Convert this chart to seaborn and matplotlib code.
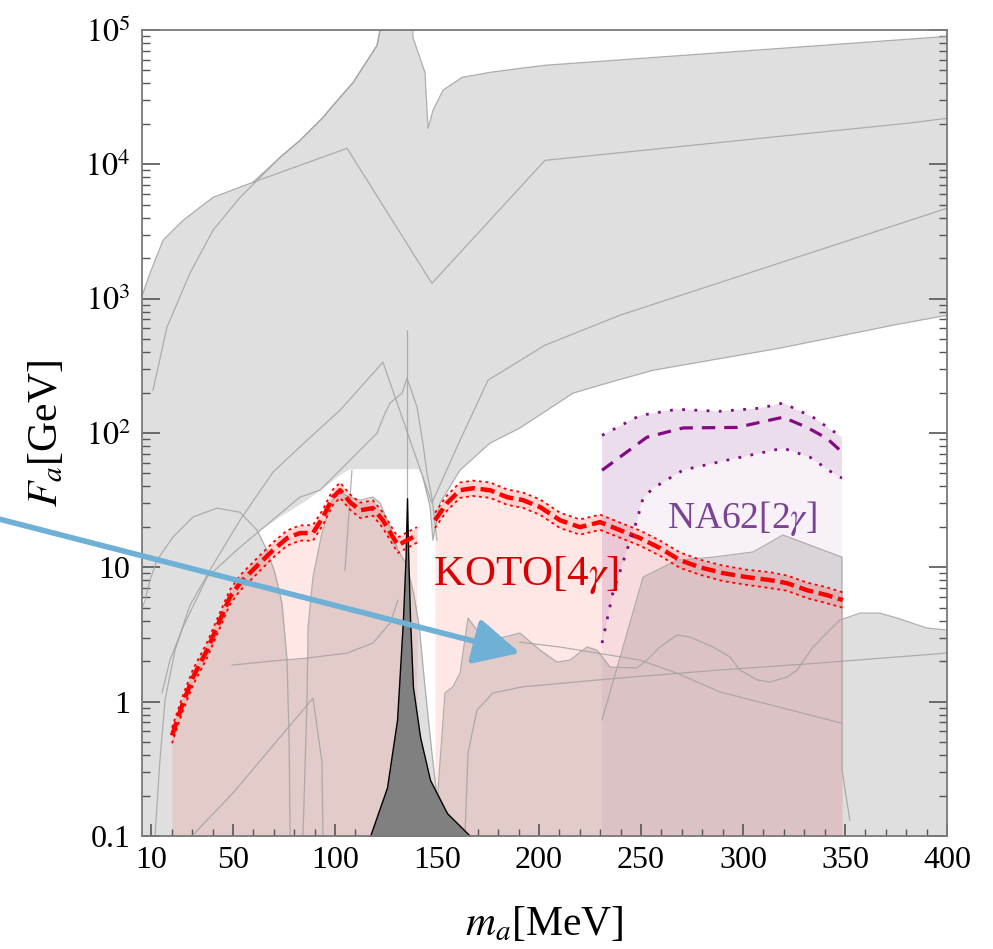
import matplotlib
matplotlib.use("Agg")
import matplotlib.pyplot as plt
import seaborn as sns
import numpy as np
from matplotlib.patches import FancyArrowPatch
from matplotlib.ticker import FixedLocator, MultipleLocator, LogLocator, NullFormatter

sns.set_style("white")
plt.rcParams["font.family"] = ["Liberation Serif", "DejaVu Serif"]
plt.rcParams["mathtext.fontset"] = "stix"
plt.rcParams["text.color"] = "black"
plt.rcParams["axes.labelcolor"] = "black"
plt.rcParams["xtick.color"] = "black"
plt.rcParams["ytick.color"] = "black"

# ---------------- data (m_a in MeV, F_a in GeV) ----------------
# KOTO[4 gamma]: central curve and band, below the pi0 gap
koto1_m = [20.1, 25.5, 30.4, 37.3, 43.6, 48.5, 53.4, 58.2, 64.6, 69.6, 76.5, 82.8,
           89.2, 94.1, 99.0, 102.5, 107.4, 112.3, 118.6, 123.5, 128.4, 130.9, 135.3, 140.2]
koto1_c = [0.56, 0.98, 1.52, 2.42, 4.05, 6.0, 7.63, 9.05, 11.3, 13.4, 16.5, 18.0,
           18.0, 23.6, 33.3, 37.5, 30.5, 26.6, 27.6, 22.4, 16.8, 14.6, 15.9, 17.4]
koto1_up = [0.64, 1.12, 1.74, 2.76, 4.6, 6.8, 8.7, 10.3, 12.9, 15.3, 18.8, 20.5,
            20.6, 26.9, 38.0, 42.7, 34.8, 30.3, 31.5, 25.5, 19.2, 16.7, 18.2, 19.9]
koto1_lo = [0.49, 0.86, 1.33, 2.12, 3.55, 5.3, 6.7, 7.9, 9.9, 11.8, 14.5, 15.8,
            15.8, 20.7, 29.2, 32.9, 26.8, 23.3, 24.2, 19.6, 14.7, 12.8, 13.9, 15.3]
# KOTO[4 gamma] above the pi0 gap
koto2_m = [149.0, 154.9, 161.3, 167.7, 176.0, 184.3, 192.2, 200.5, 210.3, 220.1, 229.9, 239.7,
           249.5, 259.3, 269.1, 278.9, 290.1, 301.9, 313.2, 321.5, 331.3, 341.1, 348.9]
koto2_c = [22.4, 30.1, 37.5, 38.8, 37.5, 33.3, 31.6, 28.1, 22.4, 19.9, 21.7, 18.9,
           16.5, 13.9, 11.3, 10.0, 9.06, 8.45, 8.03, 7.63, 6.76, 6.21, 5.70]
koto2_up = [25.5, 34.3, 42.8, 44.2, 42.8, 38.0, 36.0, 32.0, 25.5, 22.7, 24.7, 21.5,
            18.8, 15.8, 12.9, 11.4, 10.3, 9.6, 9.2, 8.7, 7.7, 7.1, 6.5]
koto2_lo = [19.6, 26.4, 32.9, 34.0, 32.9, 29.2, 27.7, 24.6, 19.6, 17.5, 19.0, 16.6,
            14.5, 12.2, 9.9, 8.8, 7.9, 7.4, 7.0, 6.7, 5.9, 5.4, 5.0]

# NA62[2 gamma]
na_up_m = [230.9, 249.5, 267.6, 288.7, 308.3, 319.6, 334.3, 348.5]
na_up_F = [96, 135, 150, 145, 153, 167, 131, 93]
na_c_m = [230.9, 252.9, 270.6, 297.0, 319.6, 331.4, 341.2, 349.0]
na_c_F = [52.8, 93, 109, 110, 131, 110, 91, 71]
na_lo_m = [230.9, 236.2, 243.1, 248.0, 251.0, 255.9, 270.6, 292.2, 308.3, 319.6, 332.8, 344.1, 348.5]
na_lo_F = [2.73, 6.43, 13.4, 22.4, 32.7, 38.8, 52.9, 62.8, 70.8, 77.1, 66.1, 50.2, 46.1]

# pi0 pole region
pi_m = [117.2, 125.5, 130.4, 133.3, 134.6, 135.3, 135.9, 136.8, 138.2, 141.7, 146.6, 154.9, 166.2]
pi_F = [0.1, 0.23, 0.73, 4.05, 12.0, 32.7, 12.0, 4.05, 1.29, 0.546, 0.261, 0.148, 0.1]

# existing constraints (grey)
gtop_up_m = [5.0, 9.3, 15.7, 25.5, 40.2, 59.8, 73.1, 82.9, 94.2, 99.1, 108.9, 120.6, 126.0,
             138.2, 138.2, 144.1, 145.6, 148.0, 152.9, 162.3, 176.0, 190.7, 202.9, 400.0]
gtop_up_F = [1007, 1545, 2720, 3830, 5680, 7350, 11270, 15100, 22400, 27500, 40700, 76800, 2e5,
             2e5, 88000, 48400, 18500, 25200, 35600, 44400, 48400, 51800, 54600, 89600]
gtop_lo_m = [5.0, 61.8, 73.1, 86.3, 97.5, 102.5, 107.4, 140.7, 143.1, 146.6, 148.0, 151.5,
             161.3, 176.0, 190.7, 216.7, 233.4, 255.9, 318.1, 373.5, 400.0]
gtop_lo_F = [5.7, 18.0, 23.7, 31.6, 42.3, 48.5, 53.8, 53.8, 46.9, 28.1, 15.9, 30.1,
             52.9, 84, 109, 198, 235, 293, 428, 634, 752]

curveA_m = [5.0, 9.3, 15.7, 25.5, 40.2, 59.8, 105.9, 147.5, 202.9, 380.4, 400.0]
curveA_F = [1007, 1545, 2720, 3830, 5680, 7350, 13150, 1300, 10700, 20200, 22000]
curveB_m = [10.8, 17.6, 28.9, 40.2, 53.5, 73.1, 82.9, 94.2, 99.1, 108.9, 120.6, 126.0]
curveB_F = [208, 612, 1545, 3230, 5680, 11270, 15100, 22400, 27500, 40700, 76800, 2e5]
curveC_m = [11.8, 14.2, 16.7, 21.6, 28.9, 40.2, 53.4, 69.6, 86.3, 102.5, 123.5, 147.5,
            161.3, 175.0, 202.9, 239.7, 400.0]
curveC_F = [0.1, 0.367, 1.03, 2.42, 5.23, 10.4, 22.4, 51.1, 88.3, 148, 336, 30.1,
            88.3, 247, 450, 753, 4710]
curveD_m = [15.2, 19.1, 25.5, 37.3, 53.4, 82.8, 92.6, 107.4, 120.6, 124.5, 127.0, 132.9,
            135.3, 140.2, 143.1, 145.1, 147.5, 150.0]
curveD_F = [1.16, 2.04, 3.59, 8.45, 14.1, 33.3, 37.5, 62.8, 99.8, 140, 167, 198,
            256, 156, 84, 50.2, 33.3, 15.9]
bumpE_m = [5.0, 6.9, 9.3, 12.7, 20.6, 30.4, 42.2, 53.4, 61.8, 66.7, 70.6, 74.0, 76.5, 77.5, 78.0]
bumpE_F = [4.8, 5.7, 8.0, 11.3, 16.8, 23.7, 27.6, 25.7, 18.9, 13.4, 9.06, 5.42, 2.04, 0.52, 0.1]
bumpF_m = [84.3, 86.3, 86.8, 89.2, 93.6, 98.5, 102.5, 107.4, 112.3, 118.6, 122.1, 127.0,
           130.9, 135.2, 138.7, 141.2, 144.1, 147.5, 150.0, 151.0]
bumpF_F = [0.1, 1.03, 3.59, 8.45, 18.0, 31.6, 36.3, 33.3, 31.6, 33.3, 30.1, 19.9,
           13.4, 10.4, 6.21, 3.72, 1.29, 0.415, 0.195, 0.1]
lineG_m = [49.5, 68.1, 86.3, 105.9, 118.6, 127.0, 130.9]
lineG_F = [1.87, 2.0, 2.11, 2.30, 2.73, 3.85, 5.70]
regH_m = [150.0, 150.6, 153.9, 157.8, 161.3, 165.2, 169.6, 180.9, 190.7, 200.5, 208.8, 215.2,
          223.5, 228.4, 234.8, 248.0, 252.9, 259.3, 267.6, 274.0, 285.3, 293.6, 298.5, 306.9,
          313.2, 321.5, 326.5, 334.3, 347.5, 357.4, 367.1, 375.5, 390.2, 400.0]
regH_F = [0.1, 0.23, 1.16, 1.29, 1.63, 4.19, 3.41, 2.97, 3.24, 2.42, 1.97, 2.04,
          2.55, 2.42, 1.81, 1.78, 2.04, 2.55, 3.13, 3.03, 2.55, 2.15, 1.72, 1.45,
          1.40, 1.52, 1.72, 2.55, 4.05, 4.56, 4.56, 4.19, 3.53, 3.41]
regI_m = [230.9, 251.0, 267.6, 285.3, 304.9, 319.6, 348.5, 348.5, 352.4]
regI_F = [0.73, 8.45, 11.3, 11.9, 13.0, 17.4, 11.9, 0.31, 0.13]
lineJ_m = [163.7, 165.2, 169.6, 177.4, 192.2, 239.7, 288.7, 337.7, 400.0]
lineJ_F = [0.1, 0.415, 0.865, 1.16, 1.29, 1.50, 1.72, 1.94, 2.30]
lineK_m = [190.7, 210.3, 249.5, 267.6, 288.7, 329.4, 348.5]
lineK_F = [2.77, 2.55, 2.04, 1.63, 1.18, 0.82, 0.69]
lineM_m = [29.9, 50.0, 89.2, 93.6, 94.1]
lineM_F = [0.1, 0.209, 1.06, 0.356, 0.1]
lineN_m = [104.9, 108.3]
lineN_F = [9.5, 52.9]
lineV_m = [135.3, 135.3]
lineV_F = [0.1, 582]

x_ticks = [10, 50, 100, 150, 200, 250, 300, 350, 400]
x_labels = ["10", "50", "100", "150", "200", "250", "300", "350", "400"]
y_ticks = [0.1, 1, 10, 1e2, 1e3, 1e4, 1e5]
y_labels = ["0.1", "1", "10", r"$10^2$", r"$10^3$", r"$10^4$", r"$10^5$"]

# ---------------- figure ----------------
fig = plt.figure(figsize=(9.93, 9.49), dpi=100)
ax = fig.add_axes([0.1427, 0.1191, 0.8110, 0.8493])
ax.set_yscale("log")
ax.set_xlim(5.25, 400)
ax.set_ylim(0.1, 1e5)
ax.set_axisbelow(False)

GRAY = "#dfdfdf"
LINE = "#a3a3a3"
BOT = 0.03

# grey fills (union)
ax.fill(np.r_[gtop_up_m, gtop_lo_m[::-1]], np.r_[gtop_up_F, gtop_lo_F[::-1]],
        color=GRAY, lw=0, zorder=1)
for mm, ff in [(bumpE_m, bumpE_F), (bumpF_m, bumpF_F), (lineG_m, lineG_F),
               (regH_m, regH_F), (regI_m, regI_F)]:
    ax.fill_between(mm, BOT, ff, color=GRAY, lw=0, zorder=1)
ax.fill_between([4.0, 5.0], BOT, [4.8, 4.8], color=GRAY, lw=0, zorder=1)

# KOTO fills
KRED = "#ff2a1a"
for mm, up, lo in [(koto1_m, koto1_up, koto1_lo), (koto2_m, koto2_up, koto2_lo)]:
    ax.fill_between(mm, BOT, up, color=KRED, alpha=0.11, lw=0, zorder=2)
    ax.fill_between(mm, lo, up, color=KRED, alpha=0.10, lw=0, zorder=2)

# NA62 fills
NPUR = "#8a2a8a"
ax.fill(np.r_[na_up_m, [na_up_m[-1], na_up_m[0]]], np.r_[na_up_F, [BOT, BOT]],
        color=NPUR, alpha=0.06, lw=0, zorder=2.5)
ax.fill(np.r_[na_up_m, na_lo_m[::-1]], np.r_[na_up_F, na_lo_F[::-1]],
        color=NPUR, alpha=0.10, lw=0, zorder=2.5)

# grey outlines
gray_lines = [
    (curveA_m, curveA_F), (curveB_m, curveB_F), (curveC_m, curveC_F), (curveD_m, curveD_F),
    (bumpE_m, bumpE_F), (bumpF_m, bumpF_F), (lineG_m, lineG_F), (regH_m, regH_F),
    (regI_m, regI_F), (lineJ_m, lineJ_F), (lineK_m, lineK_F), (lineM_m, lineM_F),
    (lineN_m, lineN_F), (lineV_m, lineV_F),
    (gtop_up_m[5:], gtop_up_F[5:]), (gtop_lo_m[8:], gtop_lo_F[8:]),
]
for mm, ff in gray_lines:
    sns.lineplot(x=mm, y=ff, estimator=None, sort=False, color=LINE, lw=0.9,
                 alpha=0.85, ax=ax, zorder=3)

# pi0 peak
ax.fill_between(pi_m, BOT, pi_F, facecolor="#808080", edgecolor="black", lw=1.0, zorder=4)

# KOTO lines
for mm, c, up, lo in [(koto1_m, koto1_c, koto1_up, koto1_lo),
                      (koto2_m, koto2_c, koto2_up, koto2_lo)]:
    sns.lineplot(x=mm, y=c, estimator=None, sort=False, color="#ff0000", lw=3.2, ax=ax, zorder=5)
    ax.lines[-1].set_linestyle((0, (3.2, 1.3)))
    for b in (up, lo):
        sns.lineplot(x=mm, y=b, estimator=None, sort=False, color="#ff0000", lw=1.3, ax=ax, zorder=5)
        ax.lines[-1].set_linestyle((0, (1.6, 2.0)))

# NA62 lines
NLINE = "#820a82"
sns.lineplot(x=na_c_m, y=na_c_F, estimator=None, sort=False, color=NLINE, lw=2.3, ax=ax, zorder=5)
ax.lines[-1].set_linestyle((0, (4.2, 2.8)))
for mm, ff in [(na_up_m, na_up_F), (na_lo_m, na_lo_F)]:
    sns.lineplot(x=mm, y=ff, estimator=None, sort=False, color=NLINE, lw=2.0, ax=ax, zorder=5)
    ax.lines[-1].set_linestyle((0, (1.0, 3.4)))

# labels in plot
ax.text(148.1, 7.38, r"KOTO[4$\gamma$]", color="#d80000", fontsize=31, va="baseline",
        ha="left", zorder=6)
ax.text(262.7, 19.6, r"NA62[2$\gamma$]", color="#7b4395", fontsize=27, va="baseline",
        ha="left", zorder=6)

# axes styling
ax.xaxis.set_major_locator(FixedLocator(x_ticks))
ax.set_xticklabels(x_labels)
ax.xaxis.set_minor_locator(MultipleLocator(10))
ax.yaxis.set_major_locator(FixedLocator(y_ticks))
ax.set_yticklabels(y_labels)
ax.yaxis.set_minor_locator(LogLocator(base=10, subs=np.arange(2, 10)))
ax.yaxis.set_minor_formatter(NullFormatter())

TC = "#555555"
ax.tick_params(axis="y", which="major", direction="in", length=13, width=1.2, color=TC,
               labelcolor="black", left=True, right=True, labelsize=23, pad=8)
ax.tick_params(axis="y", which="minor", direction="in", length=6, width=1.0, color=TC,
               left=True, right=True)
ax.tick_params(axis="x", which="major", direction="in", length=9, width=1.2, color=TC,
               labelcolor="black", bottom=True, top=False, labelsize=23, pad=7)
ax.tick_params(axis="x", which="minor", direction="in", length=5, width=1.0, color=TC,
               bottom=True, top=False)
for s in ax.spines.values():
    s.set_color("#7a7a7a")
    s.set_linewidth(1.3)
    s.set_zorder(7)

ax.set_xlabel(r"$m_a$[MeV]", fontsize=30, labelpad=22, color="black")
ax.set_ylabel(r"$F_a$[GeV]", fontsize=30, labelpad=14, color="black")

# blue arrow (annotation)
arrow = FancyArrowPatch((-0.005, 1 - 518 / 949), (520 / 993, 1 - 653 / 949),
                        transform=fig.transFigure, arrowstyle="-|>,head_length=1.0,head_width=0.5",
                        mutation_scale=28, lw=4, color="#6fb0d6", shrinkA=0, shrinkB=0, zorder=10)
fig.add_artist(arrow)

fig.savefig("out.png", dpi=100)
